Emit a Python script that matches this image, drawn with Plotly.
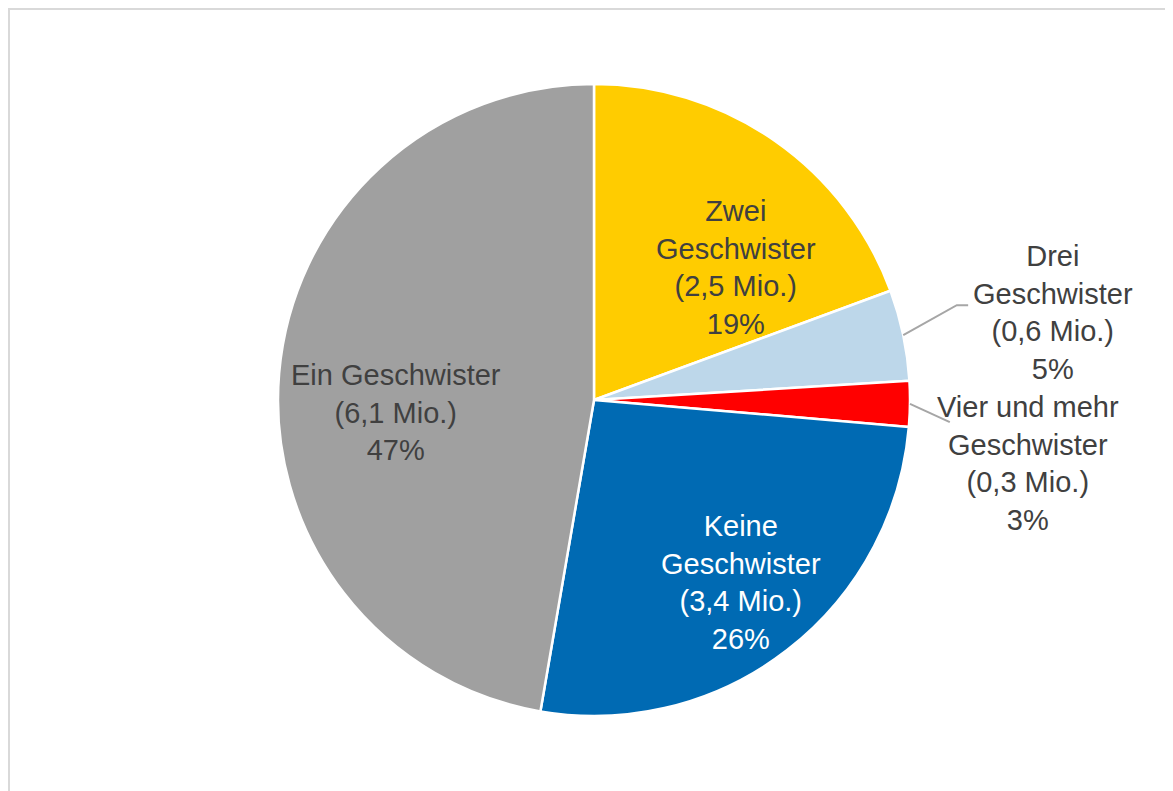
import math
import plotly.graph_objects as go

# ---- data ----
categories = ["Zwei<br>Geschwister", "Drei<br>Geschwister", "Vier und mehr<br>Geschwister",
              "Keine<br>Geschwister", "Ein Geschwister"]
values = [2.5, 0.6, 0.3, 3.4, 6.1]
value_labels = ["2,5", "0,6", "0,3", "3,4", "6,1"]
pct_labels = ["19%", "5%", "3%", "26%", "47%"]
colors = ["#FFCC00", "#BDD7EA", "#FF0000", "#006AB3", "#A0A0A0"]

W, H = 1165, 783
ML, MR, MT, MB = 270, 263, 76, 75
D = 632  # domain size in px
TXT = "#404040"
FONT = "Liberation Sans, Arial, sans-serif"
FS = 29

full_text = [f"{c}<br>({v} Mio.)<br>{p}" for c, v, p in zip(categories, value_labels, pct_labels)]
label_colors = [TXT, TXT, TXT, "white", TXT]

fig = go.Figure(go.Pie(
    labels=[c.replace("<br>", " ") for c in categories],
    values=values,
    textinfo="none",
    marker=dict(colors=colors, line=dict(color="white", width=2.5)),
    sort=False,
    direction="clockwise",
    rotation=0,
    showlegend=False,
    hoverinfo="label+value+percent",
))

# mid-angles of slices (clockwise from 12 o'clock), from the data
total = sum(values)
cum = 0
mid = []
for v in values:
    mid.append((cum + v / 2) / total * 2 * math.pi)
    cum += v

def edge_pt(theta):
    return 0.5 + 0.5 * math.sin(theta), 0.5 + 0.5 * math.cos(theta)

# label placement (style), in paper units
label_pos = [(0.7247, 0.7097), (1.226, 0.638), (1.187, 0.400), (0.7326, 0.212), (0.1867, 0.481)]
leader_ends = {1: [(1.074, 0.650), (1.092, 0.650)], 2: [(1.063, 0.465)]}

shapes = []
annotations = []
for i, txt in enumerate(full_text):
    lx, ly = label_pos[i]
    annotations.append(dict(xref="paper", yref="paper", x=lx, y=ly, text=txt,
                            showarrow=False, align="center", xanchor="center", yanchor="middle",
                            font=dict(family=FONT, size=FS, color=label_colors[i])))
for i, ends in leader_ends.items():
    x0, y0 = edge_pt(mid[i])
    pts = [(x0, y0)] + ends
    path = "M " + " L ".join(f"{x},{y}" for x, y in pts)
    shapes.append(dict(type="path", xref="paper", yref="paper", path=path,
                       line=dict(color="#A6A6A6", width=2)))

# chart frame
shapes.append(dict(type="rect", xref="paper", yref="paper",
                   x0=(1 - ML) / D, x1=(1220 - ML) / D,
                   y0=(H - MB - 830) / D, y1=(H - MB - 1) / D,
                   line=dict(color="#D9D9D9", width=2), layer="below"))

fig.update_layout(
    width=W, height=H,
    margin=dict(l=ML, r=MR, t=MT, b=MB),
    paper_bgcolor="white", plot_bgcolor="white",
    shapes=shapes, annotations=annotations,
    font=dict(family=FONT, size=FS, color=TXT),
)

fig.write_html("out.html")
